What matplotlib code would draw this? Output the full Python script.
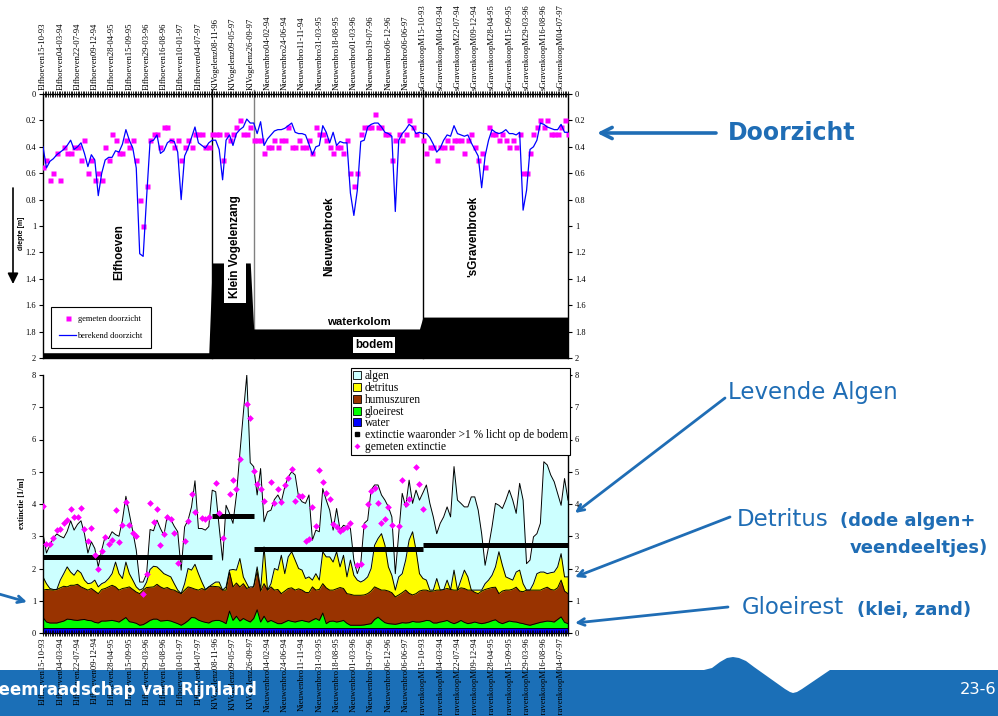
import numpy as np
import matplotlib
matplotlib.use("Agg")
import matplotlib.pyplot as plt
from matplotlib.patches import Polygon, Rectangle
from matplotlib.lines import Line2D

# ---------------------------------------------------------------- data
# sample labels (every 5th sampling date)
cat_labels = [
    "Elfhoeven15-10-93", "Elfhoeven04-03-94", "Elfhoeven22-07-94", "Elfhoeven09-12-94",
    "Elfhoeven28-04-95", "Elfhoeven15-09-95", "Elfhoeven29-03-96", "Elfhoeven16-08-96",
    "Elfhoeven10-01-97", "Elfhoeven04-07-97",
    "KlVogelenz08-11-96", "KlVogelenz09-05-97", "KlVogelenz26-09-97",
    "Nieuwenbro04-02-94", "Nieuwenbro24-06-94", "Nieuwenbro11-11-94", "Nieuwenbro31-03-95",
    "Nieuwenbro18-08-95", "Nieuwenbro01-03-96", "Nieuwenbro19-07-96", "Nieuwenbro06-12-96",
    "Nieuwenbro06-06-97",
    "sGravenkoopM15-10-93", "sGravenkoopM04-03-94", "sGravenkoopM22-07-94", "sGravenkoopM09-12-94",
    "sGravenkoopM28-04-95", "sGravenkoopM15-09-95", "sGravenkoopM29-03-96", "sGravenkoopM16-08-96",
    "sGravenkoopM04-07-97",
]

stations = ["Elfhoeven", "Klein Vogelenzang", "Nieuwenbroek", "'sGravenbroek"]
station_start = [0, 49, 61, 110]          # first sample index of each station
station_depth = [1.96, 1.28, 1.78, 1.69]  # water depth [m]
ext_1pct = [2.35, 3.62, 2.59, 2.74]       # extinction with >1 % light at the bottom

# computed Secchi depth [m]
calc_doorzicht = [
    0.40, 0.56, 0.51, 0.49, 0.46, 0.44, 0.42, 0.39, 0.35, 0.42,
    0.40, 0.37, 0.45, 0.55, 0.46, 0.50, 0.77, 0.60, 0.50, 0.48,
    0.48, 0.43, 0.44, 0.38, 0.27, 0.35, 0.41, 0.56, 1.21, 1.23,
    0.78, 0.36, 0.35, 0.31, 0.45, 0.43, 0.37, 0.35, 0.36, 0.44,
    0.80, 0.47, 0.41, 0.33, 0.25, 0.37, 0.39, 0.41, 0.37, 0.35,
    0.35, 0.42, 0.65, 0.35, 0.31, 0.39, 0.30, 0.27, 0.25, 0.19,
    0.22, 0.22, 0.30, 0.21, 0.39, 0.34, 0.31, 0.28, 0.27, 0.27,
    0.26, 0.24, 0.22, 0.29, 0.30, 0.30, 0.31, 0.38, 0.46, 0.40,
    0.39, 0.24, 0.29, 0.37, 0.29, 0.39, 0.36, 0.37, 0.37, 0.75,
    0.92, 0.73, 0.36, 0.35, 0.25, 0.23, 0.22, 0.22, 0.25, 0.29,
    0.30, 0.32, 0.89, 0.35, 0.30, 0.27, 0.23, 0.25, 0.30, 0.29,
    0.30, 0.30, 0.33, 0.38, 0.44, 0.41, 0.35, 0.31, 0.32, 0.24,
    0.30, 0.31, 0.32, 0.31, 0.37, 0.42, 0.47, 0.71, 0.47, 0.35,
    0.27, 0.29, 0.30, 0.29, 0.27, 0.30, 0.30, 0.31, 0.29, 0.88,
    0.73, 0.42, 0.40, 0.35, 0.22, 0.23, 0.25, 0.26, 0.27, 0.27,
    0.23, 0.29, 0.29,
]

nan = float("nan")
# measured Secchi depth [m]
gemeten_doorzicht = [
    0.55, 0.50, 0.65, 0.60, 0.45, 0.65, 0.40, 0.45, 0.45, 0.40,
    0.40, 0.50, 0.35, 0.60, 0.50, 0.65, 0.60, 0.65, 0.40, 0.50,
    0.30, 0.35, 0.45, 0.45, 0.35, 0.40, 0.35, 0.50, 0.80, 1.00,
    0.70, 0.35, 0.30, 0.30, 0.40, 0.25, 0.25, 0.35, 0.40, 0.35,
    0.50, 0.40, 0.35, 0.40, 0.30, 0.30, 0.30, 0.40, 0.40, 0.30,
    0.30, 0.30, 0.50, 0.30, 0.35, 0.30, 0.25, 0.20, 0.30, 0.30,
    0.25, 0.35, 0.35, 0.35, 0.45, 0.40, 0.40, 0.35, 0.40, 0.35,
    0.35, 0.25, 0.40, 0.40, 0.35, 0.40, 0.40, 0.35, 0.45, 0.25,
    0.30, 0.30, 0.35, 0.40, 0.45, 0.40, 0.40, 0.45, 0.35, 0.60,
    0.70, 0.60, 0.30, 0.25, 0.25, 0.25, 0.15, 0.25, 0.25, 0.30,
    0.30, 0.50, 0.35, 0.30, 0.35, 0.30, 0.20, 0.25, 0.30, nan,
    0.35, 0.45, 0.40, 0.40, 0.50, 0.40, 0.40, 0.35, 0.40, 0.35,
    0.35, 0.35, 0.45, 0.35, 0.30, 0.40, 0.50, 0.45, 0.55, 0.25,
    0.30, 0.30, 0.35, 0.30, 0.35, 0.40, 0.35, 0.40, 0.30, 0.60,
    0.60, 0.45, 0.30, 0.25, 0.20, 0.25, 0.20, 0.30, 0.30, 0.30,
    0.25, 0.20, 0.30,
]

# cumulative computed extinction [1/m]: top of algen (= total)
ext_total = [
    3.08, 2.48, 2.72, 2.95, 3.07, 3.00, 2.95, 3.15, 3.48, 3.19,
    3.37, 3.48, 3.08, 2.48, 2.83, 2.62, 2.05, 2.57, 3.00, 2.93,
    3.14, 3.05, 3.00, 3.50, 4.24, 3.70, 3.15, 2.57, 1.58, 1.58,
    1.84, 3.21, 3.17, 3.50, 3.24, 3.03, 3.65, 3.52, 3.31, 3.14,
    1.95, 3.29, 3.50, 3.91, 4.72, 3.24, 3.24, 3.19, 3.30, 4.43,
    4.38, 3.29, 2.26, 3.96, 3.71, 3.40, 4.28, 5.57, 6.81, 8.00,
    5.28, 5.16, 4.28, 5.10, 3.45, 3.76, 3.81, 4.14, 4.28, 4.07,
    4.53, 4.84, 5.00, 4.90, 4.22, 4.07, 4.02, 4.28, 2.88, 3.19,
    3.14, 4.48, 4.12, 3.81, 3.19, 3.86, 3.19, 3.34, 3.29, 3.24,
    2.26, 1.84, 2.15, 3.40, 3.50, 4.43, 4.59, 4.59, 4.28, 4.12,
    3.91, 3.60, 1.84, 3.08, 4.33, 3.91, 4.74, 4.02, 4.43, 4.12,
    4.35, 4.59, 4.02, 3.60, 3.08, 3.40, 3.60, 3.91, 3.60, 5.16,
    4.12, 4.02, 3.91, 3.91, 4.22, 4.22, 3.81, 3.08, 2.10, 2.67,
    3.29, 4.02, 3.96, 3.86, 4.12, 4.43, 4.12, 3.71, 4.64, 4.12,
    2.15, 2.26, 2.98, 3.08, 3.40, 5.31, 5.21, 4.90, 4.69, 4.33,
    3.96, 4.79, 4.12,
]
# top of detritus
ext_detritus_top = [
    1.74, 1.53, 1.38, 1.35, 1.35, 1.64, 1.84, 2.05, 1.89, 1.79,
    1.95, 1.86, 1.64, 1.53, 1.55, 1.64, 1.43, 1.53, 1.58, 1.69,
    1.84, 2.20, 1.84, 1.69, 2.20, 1.84, 1.64, 1.43, 1.33, 1.38,
    1.58, 1.97, 2.07, 2.05, 1.95, 1.84, 1.79, 1.74, 1.53, 1.33,
    1.22, 1.53, 2.00, 1.95, 2.13, 1.84, 1.58, 1.35, 1.43, 1.51,
    1.58, 1.58, 1.33, 1.43, 1.95, 1.97, 1.95, 2.31, 1.74, 1.53,
    1.33, 1.45, 2.05, 1.33, 2.67, 1.33, 1.53, 2.00, 1.95, 2.41,
    1.84, 2.36, 2.52, 2.26, 2.00, 1.95, 1.69, 1.74, 1.64, 1.84,
    1.64, 2.52, 2.36, 2.36, 2.20, 2.52, 2.05, 2.41, 1.74, 2.26,
    1.79, 1.64, 1.58, 1.64, 1.74, 2.00, 2.72, 2.93, 3.08, 2.72,
    2.05, 1.79, 1.33, 1.74, 1.84, 2.26, 2.88, 3.14, 2.57, 1.84,
    1.69, 1.64, 1.33, 1.33, 1.69, 1.33, 1.33, 1.64, 1.33, 1.95,
    1.33, 1.64, 1.95, 1.74, 1.33, 1.33, 1.33, 1.33, 1.53, 1.64,
    1.79, 2.05, 2.52, 2.10, 1.74, 1.69, 1.64, 1.89, 1.95, 1.53,
    1.33, 1.33, 1.53, 1.84, 1.89, 1.89, 1.84, 1.87, 1.89, 2.05,
    2.46, 1.74, 1.74,
]
# top of humuszuren
ext_humus_top = [
    1.33, 1.35, 1.34, 1.33, 1.35, 1.40, 1.45, 1.43, 1.48, 1.48,
    1.51, 1.43, 1.38, 1.33, 1.38, 1.30, 1.22, 1.35, 1.38, 1.43,
    1.48, 1.43, 1.33, 1.38, 1.40, 1.43, 1.35, 1.27, 1.22, 1.33,
    1.41, 1.42, 1.43, 1.51, 1.43, 1.38, 1.41, 1.35, 1.33, 1.27,
    1.22, 1.33, 1.43, 1.40, 1.36, 1.33, 1.38, 1.33, 1.43, 1.45,
    1.44, 1.43, 1.33, 1.33, 1.89, 1.43, 1.55, 1.43, 1.53, 1.38,
    1.43, 1.43, 1.90, 1.30, 1.53, 1.33, 1.43, 1.33, 1.35, 1.22,
    1.30, 1.38, 1.40, 1.33, 1.37, 1.33, 1.26, 1.25, 1.43, 1.33,
    1.35, 1.53, 1.40, 1.33, 1.33, 1.37, 1.41, 1.38, 1.22, 1.20,
    1.17, 1.17, 1.17, 1.18, 1.22, 1.30, 1.43, 1.38, 1.33, 1.33,
    1.30, 1.25, 1.12, 1.18, 1.25, 1.33, 1.23, 1.18, 1.22, 1.30,
    1.33, 1.33, 1.29, 1.30, 1.33, 1.33, 1.35, 1.38, 1.35, 1.33,
    1.33, 1.40, 1.38, 1.33, 1.33, 1.26, 1.22, 1.30, 1.35, 1.38,
    1.41, 1.42, 1.22, 1.30, 1.33, 1.33, 1.36, 1.42, 1.30, 1.28,
    1.33, 1.33, 1.33, 1.33, 1.33, 1.38, 1.42, 1.35, 1.33, 1.40,
    1.64, 1.30, 1.22,
]
# top of gloeirest
ext_gloei_top = [
    0.48, 0.34, 0.31, 0.31, 0.31, 0.34, 0.37, 0.43, 0.42, 0.40,
    0.39, 0.41, 0.42, 0.39, 0.38, 0.33, 0.31, 0.37, 0.37, 0.38,
    0.39, 0.37, 0.34, 0.41, 0.48, 0.35, 0.33, 0.30, 0.24, 0.26,
    0.32, 0.39, 0.43, 0.43, 0.37, 0.38, 0.39, 0.37, 0.33, 0.29,
    0.24, 0.30, 0.38, 0.48, 0.47, 0.40, 0.36, 0.33, 0.31, 0.37,
    0.39, 0.39, 0.35, 0.29, 0.68, 0.39, 0.52, 0.37, 0.45, 0.39,
    0.34, 0.45, 0.72, 0.34, 0.52, 0.34, 0.39, 0.34, 0.29, 0.29,
    0.34, 0.39, 0.36, 0.34, 0.37, 0.39, 0.36, 0.34, 0.40, 0.45,
    0.39, 0.62, 0.29, 0.36, 0.37, 0.34, 0.36, 0.39, 0.30, 0.24,
    0.24, 0.24, 0.24, 0.25, 0.27, 0.29, 0.42, 0.49, 0.40, 0.32,
    0.29, 0.28, 0.27, 0.29, 0.32, 0.31, 0.32, 0.36, 0.34, 0.34,
    0.36, 0.39, 0.38, 0.31, 0.31, 0.34, 0.36, 0.39, 0.33, 0.29,
    0.33, 0.39, 0.33, 0.29, 0.31, 0.34, 0.31, 0.29, 0.31, 0.34,
    0.38, 0.41, 0.33, 0.29, 0.33, 0.37, 0.35, 0.34, 0.31, 0.29,
    0.26, 0.24, 0.27, 0.30, 0.33, 0.35, 0.37, 0.36, 0.34, 0.42,
    0.50, 0.33, 0.29,
]
water_ext = 0.17  # extinction of pure water

# measured extinction [1/m]
gemeten_extinctie = [
    3.93, 2.77, 2.77, 2.95, 3.19, 3.21, 3.42, 3.50, 3.83, 3.60,
    3.60, 3.88, 3.24, 2.85, 3.27, 2.41, 2.00, 2.54, 2.98, 2.75,
    2.88, 3.81, 2.83, 3.34, 4.07, 3.36, 3.11, 3.00, nan, 1.22,
    1.84, 4.04, 3.43, 3.83, 2.74, 3.06, 3.60, 3.52, 3.11, 2.18,
    nan, 2.86, 3.47, 4.30, 3.76, nan, 3.57, 3.52, 3.60, nan,
    4.66, 3.73, 2.96, nan, 4.30, 4.74, 4.45, 5.38, nan, 7.10,
    6.66, 5.03, 4.62, 4.48, 4.10, nan, 4.69, 4.04, 4.48, 4.07,
    4.59, 4.82, 5.07, 4.10, 4.24, 4.24, 2.86, 2.93, 3.91, 3.32,
    5.05, 4.69, 4.33, 4.15, 3.37, 3.29, 3.16, 3.24, 3.29, 3.40,
    nan, 2.10, 2.15, 3.32, 4.00, 4.41, 4.51, 4.02, 3.42, 3.54,
    3.91, 3.34, nan, 3.32, 4.74, 4.00, 4.14, nan, 5.16, 4.61,
    3.83, nan, nan, nan, nan, nan, nan, nan, nan, nan,
    nan, nan, nan, nan, nan, nan, nan, nan, nan, nan,
    nan, nan, nan, nan, nan, nan, nan, nan, nan, nan,
    nan, nan, nan, nan, nan, nan, nan, nan, nan, nan,
    nan, nan, nan,
]

# ---------------------------------------------------------------- style
W, H = 998, 716
SERIF = "Liberation Serif"
SANS = "Liberation Sans"
SLIDE = "DejaVu Sans"
SLIDE_BLUE = "#1f6db5"
MAGENTA = "#ff00ff"
TICK_FS = 6.2

n = len(calc_doorzicht)
x = np.arange(n)
bounds = station_start + [n - 1]
counts = np.diff(station_start + [n])
bodem = np.repeat(station_depth, counts)

fig = plt.figure(figsize=(W / 100, H / 100), dpi=100)

# slide background layer in pixel coordinates
bg = fig.add_axes([0, 0, 1, 1], zorder=-1)
bg.set_xlim(0, W)
bg.set_ylim(H, 0)
bg.axis("off")

band = [(0, 716), (0, 670), (704, 670), (712, 668), (720, 662), (727, 658), (733, 657),
        (739, 658), (746, 661), (754, 667), (785, 689), (790, 692), (793, 693), (797, 692),
        (802, 689), (830, 670), (998, 670), (998, 716)]
bg.add_patch(Polygon(band, closed=True, facecolor="#1b6fb7", edgecolor="none"))

# ---------------------------------------------------------------- top panel
ax1 = fig.add_axes([43 / W, 1 - 358 / H, 525 / W, 264 / H])
ax1.set_xlim(0, n - 1)
ax1.set_ylim(2, 0)

ax1.fill_between(x, bodem, 2, color="black", lw=0, zorder=2)
for b, c in zip(station_start[1:], ["black", "#808080", "black"]):
    ax1.plot([b, b], [-0.03, 2], color=c, lw=1.0, zorder=1.5, clip_on=False)

ax1.plot(x, gemeten_doorzicht, ls="none", marker="s", ms=3.6, color=MAGENTA,
         mec="none", zorder=3)
ax1.plot(x, calc_doorzicht, color="#0000ff", lw=0.9, zorder=4)

lab_kw = dict(rotation=90, ha="center", va="center", fontsize=8.4,
              fontweight="bold", family=SANS, zorder=6)
ax1.text(22.0, 1.20, stations[0], **lab_kw)
ax1.text(55.6, 1.16, stations[1], bbox=dict(facecolor="white", edgecolor="none", pad=3.5), **lab_kw)
ax1.text(83.0, 1.08, stations[2], **lab_kw)
ax1.text(124.5, 1.08, stations[3], **lab_kw)
ax1.text(91.5, 1.725, "waterkolom", ha="center", va="center", fontsize=8.2,
         fontweight="bold", family=SANS, zorder=6)
ax1.text(95.8, 1.90, "bodem", ha="center", va="center", fontsize=8.4,
         fontweight="bold", family=SANS, zorder=6,
         bbox=dict(facecolor="white", edgecolor="none", pad=1.5))

ax1.xaxis.tick_top()
ax1.set_xticks(np.arange(0, n, 5))
ax1.set_xticklabels(cat_labels, rotation=90, fontsize=TICK_FS, family=SERIF)
ax1.set_xticks(np.arange(0, n - 0.9, 0.5), minor=True)
ax1.tick_params(axis="x", which="both", direction="inout", length=4, width=0.6,
                top=True, bottom=False, pad=1)
depth_ticks = np.linspace(0, 2, 11)
ax1.set_yticks(depth_ticks)
ax1.set_yticklabels([f"{v:g}" for v in depth_ticks])
ax1.tick_params(axis="y", direction="out", length=3, width=0.8, left=True, right=True,
                labelleft=True, labelright=True, labelsize=6, pad=2,
                labelfontfamily=SERIF)
for s in ax1.spines.values():
    s.set_linewidth(1.0)

leg1 = ax1.legend(
    handles=[Line2D([], [], ls="none", marker="s", ms=3.6, color=MAGENTA, mec="none"),
             Line2D([], [], color="#0000ff", lw=0.9)],
    labels=["gemeten doorzicht", "berekend doorzicht"],
    loc="lower left", bbox_to_anchor=(0.015, 0.038), borderaxespad=0,
    prop=dict(family=SERIF, size=6), frameon=True, fancybox=False,
    edgecolor="black", framealpha=1, handlelength=2.0, handletextpad=0.2,
    labelspacing=1.0, borderpad=1.0)
leg1.get_frame().set_linewidth(0.8)
leg1.set_zorder(7)

# ---------------------------------------------------------------- bottom panel
ax2 = fig.add_axes([43 / W, 1 - 633 / H, 525 / W, 258 / H])
ax2.set_xlim(0, n - 1)
ax2.set_ylim(0, 8)

layers = [(ext_total, "#ccffff"), (ext_detritus_top, "#ffff00"),
          (ext_humus_top, "#993300"), (ext_gloei_top, "#00ff00"),
          (np.full(n, water_ext), "#0000ff")]
z = 1.0
for top, col in layers:
    ax2.fill_between(x, 0, top, color=col, lw=0, zorder=z)
    ax2.plot(x, top, color="black", lw=0.7, zorder=z + 0.05)
    z += 0.1

for i, v in enumerate(ext_1pct):
    ax2.plot([bounds[i], bounds[i + 1]], [v, v], color="black", lw=3.6,
             solid_capstyle="butt", zorder=3)

ax2.plot(x, gemeten_extinctie, ls="none", marker="D", ms=3.4, color=MAGENTA,
         mec="none", zorder=4)

ax2.set_xticks(np.arange(0, n, 5))
ax2.set_xticklabels(cat_labels, rotation=90, fontsize=TICK_FS, family=SERIF)
ax2.set_xticks(np.arange(0, n - 0.9, 0.5), minor=True)
ax2.tick_params(axis="x", which="both", direction="inout", length=4, width=0.6,
                top=False, bottom=True, pad=1)
ax2.set_yticks(range(0, 9))
ax2.tick_params(axis="y", direction="out", length=3, width=0.8, left=True, right=True,
                labelleft=True, labelright=True, labelsize=6, pad=2,
                labelfontfamily=SERIF)
ax2.spines["top"].set_visible(False)
for s in ("left", "right", "bottom"):
    ax2.spines[s].set_linewidth(1.0)

leg2 = ax2.legend(
    handles=[Rectangle((0, 0), 1, 1, fc="#ccffff", ec="black", lw=0.6),
             Rectangle((0, 0), 1, 1, fc="#ffff00", ec="black", lw=0.6),
             Rectangle((0, 0), 1, 1, fc="#993300", ec="black", lw=0.6),
             Rectangle((0, 0), 1, 1, fc="#00ff00", ec="black", lw=0.6),
             Rectangle((0, 0), 1, 1, fc="#0000ff", ec="black", lw=0.6),
             Line2D([], [], ls="none", marker="s", ms=2.6, color="black"),
             Line2D([], [], ls="none", marker="D", ms=3.0, color=MAGENTA, mec="none")],
    labels=["algen", "detritus", "humuszuren", "gloeirest", "water",
            "extinctie waaronder >1 % licht op de bodem", "gemeten extinctie"],
    loc="upper right", bbox_to_anchor=(1.004, 1.027), borderaxespad=0,
    prop=dict(family=SERIF, size=8.3), frameon=True, fancybox=False,
    edgecolor="black", framealpha=1, handlelength=0.7, handleheight=0.7,
    handletextpad=0.3, labelspacing=-0.02, borderpad=0.2)
leg2.get_frame().set_linewidth(0.8)
leg2.set_zorder(7)

# ---------------------------------------------------------------- axis titles
bg.text(22, 233, "diepte [m]", rotation=90, ha="center", va="center",
        fontsize=5, fontweight="bold", family=SANS)
bg.annotate("", xy=(13, 284), xytext=(13, 188),
            arrowprops=dict(arrowstyle="-|>", color="black", lw=1.2,
                            mutation_scale=16, shrinkA=0, shrinkB=0))
bg.text(22, 503, "extinctie [1/m]", rotation=90, ha="center", va="center",
        fontsize=6, fontweight="bold", family=SERIF)

# ---------------------------------------------------------------- slide annotations
def pointer(x0, y0, x1, y1, lw=2.0, ms=12):
    bg.annotate("", xy=(x1, y1), xytext=(x0, y0),
                arrowprops=dict(arrowstyle="->", color=SLIDE_BLUE, lw=lw,
                                mutation_scale=ms, shrinkA=0, shrinkB=0))

pointer(716, 133, 597, 133, lw=2.6, ms=20)
pointer(725, 398, 575, 513)
pointer(730, 517, 575, 577)
pointer(728, 607, 575, 623)
pointer(-8, 592, 27, 602)

bg.text(728, 133, "Doorzicht", ha="left", va="center", fontsize=17,
        fontweight="bold", family=SLIDE, color=SLIDE_BLUE)
bg.text(728, 392, "Levende Algen", ha="left", va="center", fontsize=16.5,
        family=SLIDE, color=SLIDE_BLUE)
bg.text(737, 519, "Detritus", ha="left", va="center", fontsize=16.5,
        family=SLIDE, color=SLIDE_BLUE)
bg.text(840, 521, "(dode algen+", ha="left", va="center", fontsize=13,
        fontweight="bold", family=SLIDE, color=SLIDE_BLUE)
bg.text(850, 548, "veendeeltjes)", ha="left", va="center", fontsize=13,
        fontweight="bold", family=SLIDE, color=SLIDE_BLUE)
bg.text(742, 608, "Gloeirest", ha="left", va="center", fontsize=16.5,
        family=SLIDE, color=SLIDE_BLUE)
bg.text(857, 610, "(klei, zand)", ha="left", va="center", fontsize=13,
        fontweight="bold", family=SLIDE, color=SLIDE_BLUE)

fig.text(257 / W, 1 - 690 / H, "Hoogheemraadschap van Rijnland", ha="right", va="center",
         fontsize=12, fontweight="bold", family=SLIDE, color="white", zorder=10)
fig.text(960 / W, 1 - 689 / H, "23-6", ha="left", va="center", fontsize=11.7,
         family=SLIDE, color="white", zorder=10)

fig.savefig("out.png", dpi=100)
